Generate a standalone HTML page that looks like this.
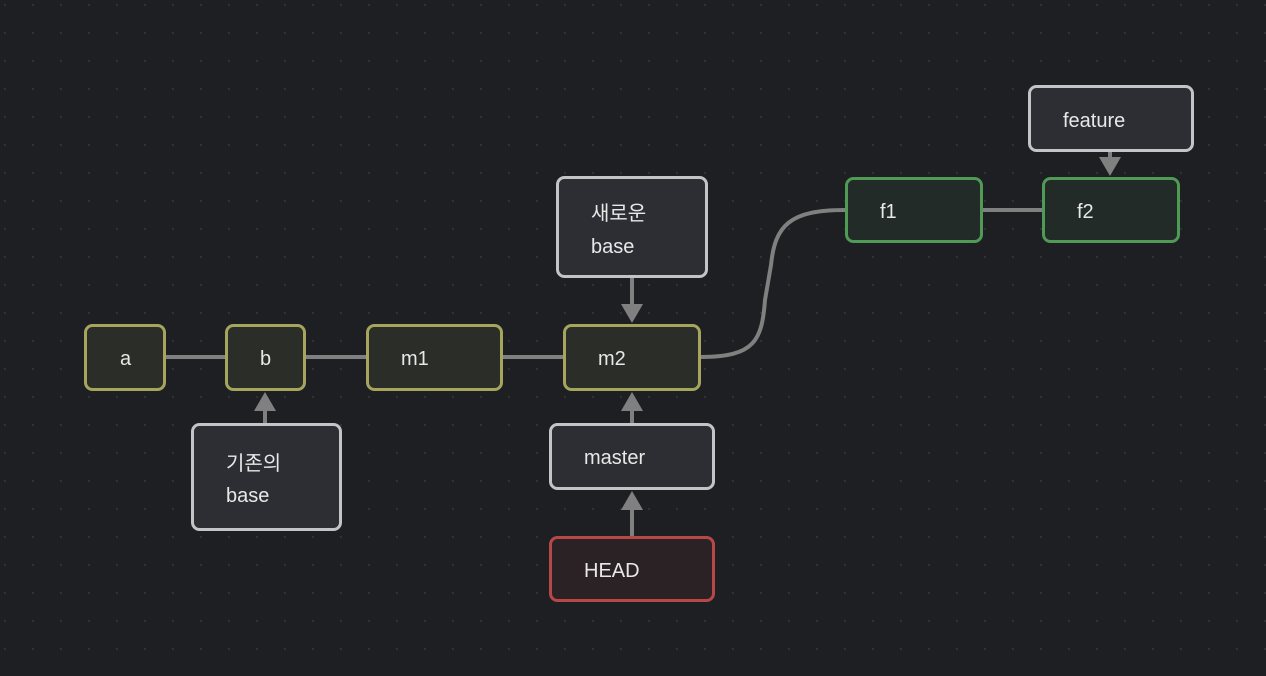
<!DOCTYPE html>
<html><head><meta charset="utf-8"><style>
html,body{margin:0;padding:0;background:#1d1f23;}
svg{display:block}
text{font-family:"Liberation Sans","Noto Sans CJK KR",sans-serif;font-size:20px;fill:#e8e8e8}
</style></head><body>
<svg width="1266" height="676" viewBox="0 0 1266 676">
<defs>
<pattern id="d" width="28" height="28" patternUnits="userSpaceOnUse" x="4" y="4">
<circle cx="1" cy="1" r="1" fill="#34373c"/></pattern>
</defs>
<rect width="1266" height="676" fill="#1d1f23"/>
<rect width="1266" height="676" fill="url(#d)"/>
<g stroke="#808080" stroke-width="4" fill="none">
<line x1="166" y1="357" x2="225" y2="357"/>
<line x1="306" y1="357" x2="366" y2="357"/>
<line x1="503" y1="357" x2="563" y2="357"/>
<line x1="983" y1="210" x2="1042" y2="210"/>
<path d="M701,357 C755,357 762,340 765,300 L771,265 C775,225 790,210 845,210"/>
<line x1="265" y1="423" x2="265" y2="408"/>
<line x1="632" y1="278" x2="632" y2="306"/>
<line x1="632" y1="423" x2="632" y2="408"/>
<line x1="632" y1="536" x2="632" y2="507"/>
<line x1="1110" y1="152" x2="1110" y2="160"/>
</g>
<g fill="#808080">
<polygon points="265,392 254,411 276,411"/>
<polygon points="632,323 621,304 643,304"/>
<polygon points="632,392 621,411 643,411"/>
<polygon points="632,491 621,510 643,510"/>
<polygon points="1110,176 1099,157 1121,157"/>
</g>
<g stroke-width="3">
<rect x="85.5" y="325.5" width="79" height="64" rx="7" fill="#2a2d28" stroke="#a6a55e"/>
<rect x="226.5" y="325.5" width="78" height="64" rx="7" fill="#2a2d28" stroke="#a6a55e"/>
<rect x="367.5" y="325.5" width="134" height="64" rx="7" fill="#2a2d28" stroke="#a6a55e"/>
<rect x="564.5" y="325.5" width="135" height="64" rx="7" fill="#2a2d28" stroke="#a6a55e"/>
<rect x="192.5" y="424.5" width="148" height="105" rx="7" fill="#2c2e33" stroke="#c2c4c6"/>
<rect x="557.5" y="177.5" width="149" height="99" rx="7" fill="#2c2e33" stroke="#c2c4c6"/>
<rect x="550.5" y="424.5" width="163" height="64" rx="7" fill="#2c2e33" stroke="#c2c4c6"/>
<rect x="550.5" y="537.5" width="163" height="63" rx="7" fill="#2b2225" stroke="#b84848"/>
<rect x="846.5" y="178.5" width="135" height="63" rx="7" fill="#232b29" stroke="#4f9a55"/>
<rect x="1043.5" y="178.5" width="135" height="63" rx="7" fill="#232b29" stroke="#4f9a55"/>
<rect x="1029.5" y="86.5" width="163" height="64" rx="7" fill="#2c2e33" stroke="#c2c4c6"/>
</g>
<text x="120" y="365">a</text>
<text x="260" y="365">b</text>
<text x="401" y="365">m1</text>
<text x="598" y="365">m2</text>
<text x="226" y="470">기존의</text>
<text x="226" y="502">base</text>
<text x="591" y="220">새로운</text>
<text x="591" y="253">base</text>
<text x="584" y="464">master</text>
<text x="584" y="577">HEAD</text>
<text x="880" y="218">f1</text>
<text x="1077" y="218">f2</text>
<text x="1063" y="127">feature</text>
</svg>
</body></html>
